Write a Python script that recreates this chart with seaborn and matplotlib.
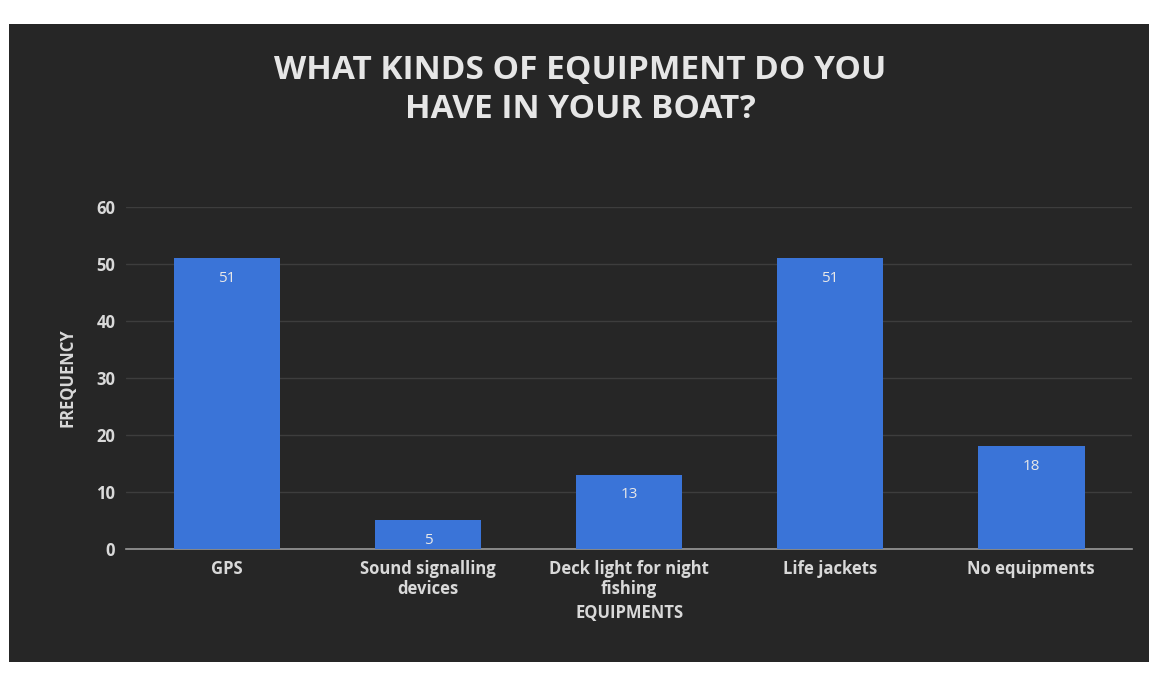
import matplotlib
matplotlib.use("Agg")
import matplotlib.pyplot as plt
import seaborn as sns
import pandas as pd
from matplotlib.patches import Rectangle

# === Data ===
equipment = ["GPS", "Sound signalling\ndevices", "Deck light for night\nfishing",
             "Life jackets", "No equipments"]
frequency = [51, 5, 13, 51, 18]
y_ticks = [0, 10, 20, 30, 40, 50, 60]

df = pd.DataFrame({"Equipment": equipment, "Frequency": frequency})

# === Style ===
sns.set_theme(style="dark")
plt.rcParams['font.family'] = ['Open Sans', 'DejaVu Sans']
bg = "#262626"
text_col = "#d9d9d9"
bar_col = "#3a74d8"

fig = plt.figure(figsize=(11.49, 6.9), dpi=100, facecolor="white")
# dark slide panel with thin white border as in the photo
fig.add_artist(Rectangle((0.008, 0.04), 0.992, 0.925, transform=fig.transFigure,
                         facecolor=bg, edgecolor="none", zorder=-10))
ax = fig.add_axes([0.11, 0.205, 0.875, 0.495])
ax.set_facecolor(bg)

sns.barplot(data=df, x="Equipment", y="Frequency", color=bar_col,
            width=0.53, saturation=1, linewidth=0, edgecolor="none",
            ax=ax, zorder=3)

# value labels inside the top of each bar
for p, v in zip(ax.patches, frequency):
    ax.text(p.get_x() + p.get_width() / 2, p.get_height() - 2.2, str(v),
            ha="center", va="top", color="#e8e8e8", fontsize=11, zorder=4)

ax.set_ylim(0, 60)
ax.set_yticks(y_ticks)
ax.yaxis.grid(True, color="#3d3d3d", linewidth=1, zorder=0)
ax.xaxis.grid(False)
for s in ["top", "right", "left"]:
    ax.spines[s].set_visible(False)
ax.spines["bottom"].set_color("#9a9a9a")
ax.spines["bottom"].set_linewidth(1.2)

ax.tick_params(axis="both", colors=text_col, length=0, labelsize=12, pad=8)
for lbl in ax.get_xticklabels() + ax.get_yticklabels():
    lbl.set_fontweight("bold")
    lbl.set_color(text_col)

ax.set_xlabel("EQUIPMENTS", color=text_col, fontsize=12, fontweight="bold", labelpad=4)
ax.set_ylabel("FREQUENCY", color=text_col, fontsize=12, fontweight="bold", labelpad=14)

fig.text(0.505, 0.87, "WHAT KINDS OF EQUIPMENT DO YOU\nHAVE IN YOUR BOAT?",
         ha="center", va="center", color="#e6e6e6", fontsize=24,
         fontweight="bold", linespacing=1.25)

fig.savefig("out.png", dpi=100, facecolor=fig.get_facecolor())
